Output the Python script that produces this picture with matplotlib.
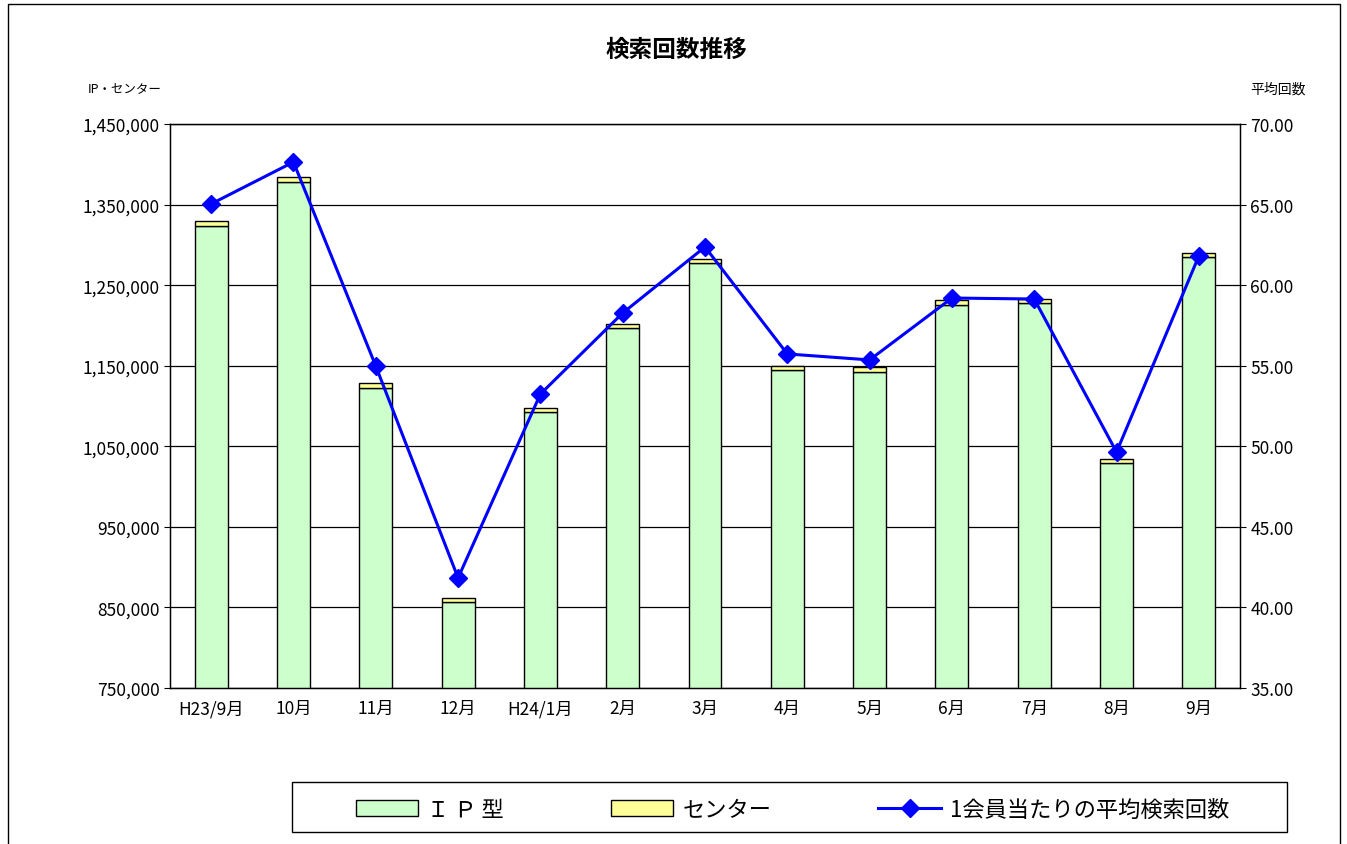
import matplotlib
matplotlib.use("Agg")
import matplotlib.pyplot as plt
from matplotlib.ticker import FuncFormatter, MultipleLocator
from matplotlib.patches import Rectangle
import numpy as np

plt.rcParams['font.family'] = ['Noto Sans CJK JP', 'DejaVu Sans']

# data
months = ["H23/9月", "10月", "11月", "12月", "H24/1月", "2月", "3月",
          "4月", "5月", "6月", "7月", "8月", "9月"]
ip_type = [1323400, 1378000, 1122300, 856700, 1092500, 1196800, 1277400,
           1144600, 1142200, 1225300, 1227800, 1029200, 1284900]
center = [6200, 6200, 6200, 5000, 5000, 4900, 5000,
          5000, 6200, 6200, 4900, 5000, 4900]
avg_search = [65.04, 67.64, 54.98, 41.83, 53.24, 58.27, 62.37,
              55.73, 55.36, 59.20, 59.14, 49.64, 61.81]

fig = plt.figure(figsize=(13.47, 8.45), dpi=100)
ax = fig.add_axes([170 / 1347, 1 - 689 / 845, 1070 / 1347, 564 / 845])

x = np.arange(len(months))
w = 0.4
ax.bar(x, ip_type, w, bottom=0, color="#ccffcc", edgecolor="black",
       linewidth=1, label="Ｉ Ｐ 型", zorder=2)
ax.bar(x, center, w, bottom=ip_type, color="#ffff99", edgecolor="black",
       linewidth=1, label="センター", zorder=2)

ax.set_ylim(750000, 1450000)
ax.set_xlim(-0.5, len(months) - 0.5)
ax.set_yticks(np.arange(750000, 1450001, 100000))
ax.yaxis.set_major_formatter(FuncFormatter(lambda v, p: f"{int(v):,}"))
ax.grid(axis="y", color="black", linewidth=0.9, zorder=0)
ax.set_xticks(x)
ax.set_xticklabels(months, fontsize=12.5)
ax.tick_params(axis="x", length=0, pad=8)
ax.tick_params(axis="y", labelsize=12.5, direction="out", length=4)
for s in ax.spines.values():
    s.set_linewidth(1)

ax2 = ax.twinx()
ax2.plot(x, avg_search, color="#0000ff", marker="D", markersize=9,
         linewidth=2.2, label="1会員当たりの平均検索回数", zorder=3)
ax2.set_ylim(35, 70)
ax2.yaxis.set_major_locator(MultipleLocator(5))
ax2.yaxis.set_major_formatter(FuncFormatter(lambda v, p: f"{v:.2f}"))
ax2.tick_params(axis="y", labelsize=12.5, direction="out", length=4)

fig.text(676 / 1347, 1 - 50 / 845, "検索回数推移", ha="center", va="center",
         fontsize=17, fontweight="bold")
fig.text(125 / 1347, 1 - 90 / 845, "IP・センター", ha="center", va="center",
         fontsize=9)
fig.text(1278 / 1347, 1 - 90 / 845, "平均回数", ha="center", va="center",
         fontsize=10)

# outer chart border
fig.patches.append(Rectangle((8 / 1347, -0.01), 1332 / 1347, 1 - 5 / 845 + 0.01,
                             transform=fig.transFigure, fill=False,
                             edgecolor="black", linewidth=1))
# legend frame
fig.patches.append(Rectangle((292 / 1347, 1 - 833 / 845), 995 / 1347, 50 / 845,
                             transform=fig.transFigure, fill=False,
                             edgecolor="black", linewidth=1))

h1, l1 = ax.get_legend_handles_labels()
h2, l2 = ax2.get_legend_handles_labels()
leg = fig.legend(h1 + h2, l1 + l2, loc="lower left", mode="expand",
                 bbox_to_anchor=(345 / 1347, 1 - 833 / 845, 895 / 1347, 50 / 845),
                 ncol=3, fontsize=16, frameon=False,
                 handlelength=2.8, handletextpad=0.4,
                 borderpad=0.5, borderaxespad=0)

fig.savefig("out.png", dpi=100)
